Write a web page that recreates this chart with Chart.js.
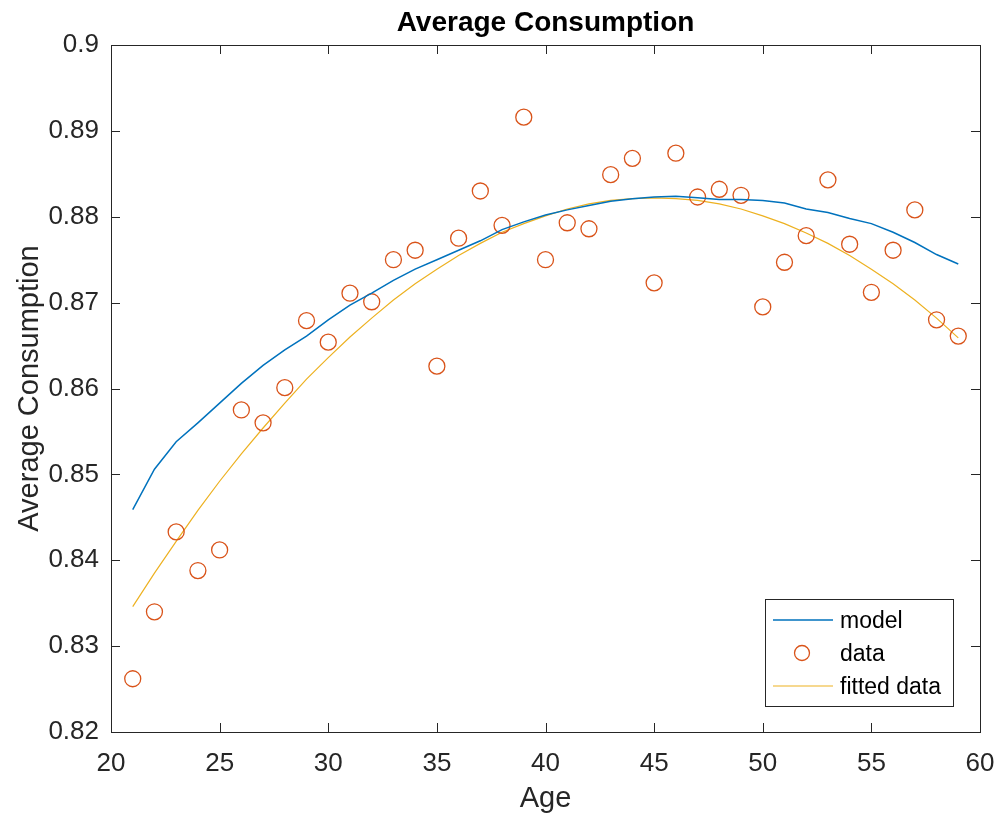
<!DOCTYPE html>
<html>
<head>
<meta charset="utf-8">
<title>Average Consumption</title>
<script src="https://cdn.jsdelivr.net/npm/chart.js@4.4.1/dist/chart.umd.min.js"></script>
<style>
  body { margin: 0; background: #fff; }
  #wrap { width: 997px; height: 818px; }
</style>
</head>
<body>
<div id="wrap"><canvas id="consumptionChart" width="997" height="818"></canvas></div>
<script>
// ===== Data =====
const ages = [21, 22, 23, 24, 25, 26, 27, 28, 29, 30, 31, 32, 33, 34, 35, 36, 37, 38, 39, 40,
  41, 42, 43, 44, 45, 46, 47, 48, 49, 50, 51, 52, 53, 54, 55, 56, 57, 58, 59];

const modelValues = [0.8459, 0.8506, 0.8538, 0.8560, 0.8583, 0.8606, 0.8627, 0.8645, 0.8661, 0.8680,
  0.8697, 0.8711, 0.8726, 0.8739, 0.8750, 0.8761, 0.8772, 0.8785, 0.8794, 0.8802,
  0.8808, 0.8813, 0.8818, 0.8821, 0.8823, 0.8824, 0.8822, 0.8820, 0.8820, 0.8819,
  0.8816, 0.8809, 0.8805, 0.8798, 0.8792, 0.8782, 0.8770, 0.8756, 0.8745];

const dataValues = [0.8262, 0.8340, 0.8433, 0.8388, 0.8412, 0.8575, 0.8560, 0.8601, 0.8679, 0.8654,
  0.8711, 0.8701, 0.8750, 0.8761, 0.8626, 0.8775, 0.8830, 0.8790, 0.8916, 0.8750,
  0.8793, 0.8786, 0.8849, 0.8868, 0.8723, 0.8874, 0.8823, 0.8832, 0.8825, 0.8695,
  0.8747, 0.8778, 0.8843, 0.8768, 0.8712, 0.8761, 0.8808, 0.8680, 0.8661];

const fittedValues = [0.8346, 0.8385, 0.8422, 0.8458, 0.8492, 0.8524, 0.8554, 0.8583, 0.8611, 0.8636,
  0.8660, 0.8682, 0.8703, 0.8722, 0.8739, 0.8755, 0.8769, 0.8782, 0.8792, 0.8801,
  0.8809, 0.8815, 0.8819, 0.8821, 0.8822, 0.8821, 0.8819, 0.8815, 0.8809, 0.8801,
  0.8792, 0.8781, 0.8769, 0.8755, 0.8739, 0.8722, 0.8703, 0.8682, 0.8659];

const xTicks = [20, 25, 30, 35, 40, 45, 50, 55, 60];
const yTicks = [0.82, 0.83, 0.84, 0.85, 0.86, 0.87, 0.88, 0.89, 0.9];

const BLUE = '#0072BD';
const ORANGE = '#D95319';
const YELLOW = '#EDB120';
const AXIS = '#262626';
const FONT = "'Liberation Sans', Arial, Helvetica, sans-serif";

const toPoints = vals => ages.map((a, i) => ({ x: a, y: vals[i] }));

// ===== Frame, inward ticks, title and legend (MATLAB style) =====
const matlabFrame = {
  id: 'matlabFrame',
  afterDatasetsDraw(chart) {
    const { ctx, chartArea: area, scales } = chart;
    const tickLen = 9;
    ctx.save();
    ctx.strokeStyle = AXIS;
    ctx.lineWidth = 1;
    ctx.beginPath();
    xTicks.forEach(t => {
      const px = Math.round(scales.x.getPixelForValue(t)) + 0.5;
      ctx.moveTo(px, area.bottom); ctx.lineTo(px, area.bottom - tickLen);
      ctx.moveTo(px, area.top); ctx.lineTo(px, area.top + tickLen);
    });
    yTicks.forEach(t => {
      const py = Math.round(scales.y.getPixelForValue(t)) + 0.5;
      ctx.moveTo(area.left, py); ctx.lineTo(area.left + tickLen, py);
      ctx.moveTo(area.right, py); ctx.lineTo(area.right - tickLen, py);
    });
    ctx.stroke();
    ctx.strokeRect(Math.round(area.left) + 0.5, Math.round(area.top) + 0.5,
      Math.round(area.right - area.left), Math.round(area.bottom - area.top));

    // title
    ctx.fillStyle = '#000';
    ctx.font = 'bold 28px ' + FONT;
    ctx.textAlign = 'center';
    ctx.textBaseline = 'middle';
    ctx.fillText('Average Consumption', (area.left + area.right) / 2, 23);

    // legend box
    const lx = 765.5, ly = 599.5, lw = 188, lh = 107;
    ctx.fillStyle = '#fff';
    ctx.fillRect(lx, ly, lw, lh);
    ctx.strokeStyle = AXIS;
    ctx.strokeRect(lx, ly, lw, lh);
    const rows = [
      { label: 'model', y: 620, kind: 'line', color: BLUE, width: 1.5 },
      { label: 'data', y: 653, kind: 'circle', color: ORANGE },
      { label: 'fitted data', y: 686, kind: 'line', color: YELLOW, width: 1.2 }
    ];
    ctx.font = '23px ' + FONT;
    ctx.textAlign = 'left';
    rows.forEach(r => {
      ctx.strokeStyle = r.color;
      if (r.kind === 'line') {
        ctx.lineWidth = r.width;
        ctx.beginPath();
        ctx.moveTo(773, r.y); ctx.lineTo(833, r.y);
        ctx.stroke();
      } else {
        ctx.lineWidth = 1.3;
        ctx.beginPath();
        ctx.arc(802, r.y, 7.5, 0, Math.PI * 2);
        ctx.stroke();
      }
      ctx.fillStyle = '#000';
      ctx.fillText(r.label, 840, r.y + 2);
    });
    ctx.restore();
  }
};

// ===== Chart =====
const ctx = document.getElementById('consumptionChart').getContext('2d');
const consumptionChart = new Chart(ctx, {
  type: 'scatter',
  data: {
    datasets: [
      {
        label: 'model',
        data: toPoints(modelValues),
        showLine: true,
        borderColor: BLUE,
        borderWidth: 1.5,
        pointRadius: 0,
        tension: 0,
        fill: false
      },
      {
        label: 'data',
        data: toPoints(dataValues),
        showLine: false,
        borderColor: ORANGE,
        backgroundColor: 'rgba(0,0,0,0)',
        pointStyle: 'circle',
        pointRadius: 8,
        pointBorderWidth: 1.3
      },
      {
        label: 'fitted data',
        data: toPoints(fittedValues),
        showLine: true,
        borderColor: YELLOW,
        borderWidth: 1.2,
        pointRadius: 0,
        tension: 0,
        fill: false
      }
    ]
  },
  options: {
    responsive: false,
    animation: false,
    layout: { padding: { top: 45, right: 17, left: 0, bottom: 0 } },
    plugins: {
      legend: { display: false },
      title: { display: false },
      tooltip: { enabled: false }
    },
    scales: {
      x: {
        type: 'linear',
        min: 20,
        max: 60,
        afterBuildTicks: scale => { scale.ticks = xTicks.map(v => ({ value: v })); },
        afterFit: scale => {
          scale.height = 86;
          scale.paddingLeft = 0;
          scale.paddingRight = 0;
        },
        grid: { display: false, drawTicks: false },
        border: { display: false },
        ticks: {
          padding: 16,
          color: AXIS,
          font: { family: FONT, size: 26 },
          maxRotation: 0,
          callback: v => String(v)
        },
        title: {
          display: true,
          text: 'Age',
          color: AXIS,
          font: { family: FONT, size: 29 },
          padding: { top: 0, bottom: 2 }
        }
      },
      y: {
        type: 'linear',
        min: 0.82,
        max: 0.9,
        afterBuildTicks: scale => { scale.ticks = yTicks.map(v => ({ value: v })); },
        afterFit: scale => {
          scale.width = 111;
          scale.paddingTop = 0;
          scale.paddingBottom = 0;
        },
        grid: { display: false, drawTicks: false },
        border: { display: false },
        ticks: {
          padding: 12,
          color: AXIS,
          font: { family: FONT, size: 26 },
          callback: v => String(v)
        },
        title: {
          display: true,
          text: 'Average Consumption',
          color: AXIS,
          font: { family: FONT, size: 29 },
          padding: { top: 13, bottom: 0 }
        }
      }
    }
  },
  plugins: [matlabFrame]
});
</script>
</body>
</html>
